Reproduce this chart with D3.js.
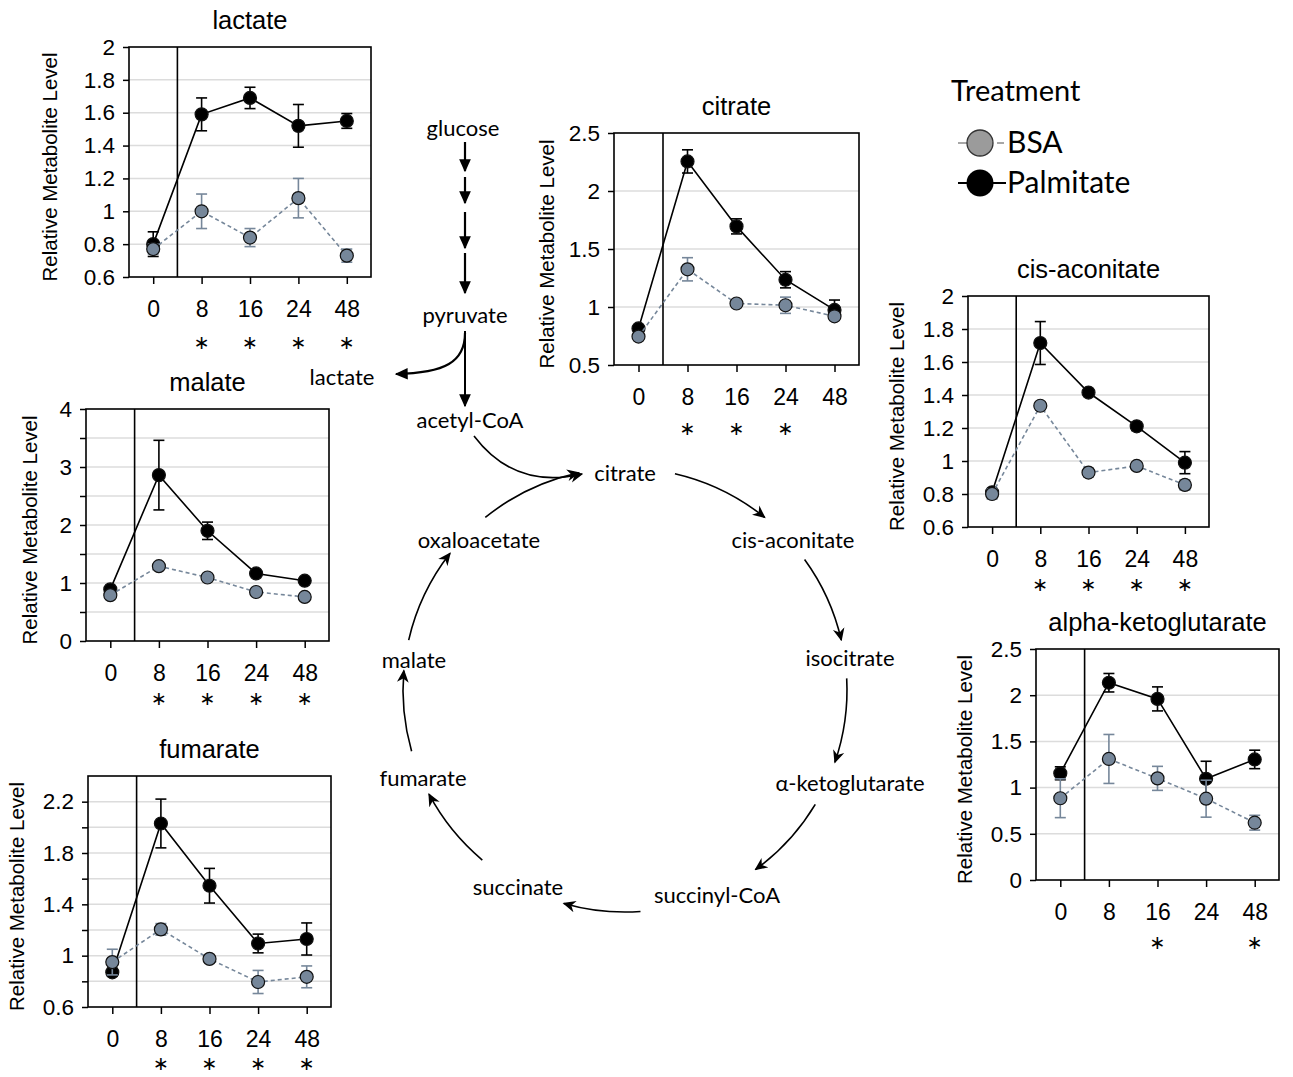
<!DOCTYPE html>
<html>
<head>
<meta charset="utf-8">
<script src="https://cdn.jsdelivr.net/npm/d3@7"></script>
<style>
  body { margin: 0; background: #fff; }
  svg { display: block; }
  .axis text { font-family: "Liberation Sans", Arial, sans-serif; fill: #000; }
  .axis line { stroke: #000; stroke-width: 1.5; }
  .path-label { font-family: Lato, "Open Sans", sans-serif; font-size: 22px; fill: #000; }
</style>
</head>
<body>
<div id="chart"></div>
<script>
// time points (h) shared by every panel
const times = ["0", "8", "16", "24", "48"];

// values: mean and error bar half-length per time point
const lactateBSA = [0.77, 1.0, 0.84, 1.08, 0.73];
const lactateBSAErr = [0.03, 0.105, 0.055, 0.12, 0.04];
const lactatePalm = [0.80, 1.59, 1.69, 1.52, 1.55];
const lactatePalmErr = [0.075, 0.10, 0.065, 0.13, 0.045];
const lactateStars = ["8", "16", "24", "48"];

const citrateBSA = [0.745, 1.325, 1.03, 1.015, 0.92];
const citrateBSAErr = [0.03, 0.10, 0.02, 0.07, 0.03];
const citratePalm = [0.815, 2.255, 1.695, 1.235, 0.975];
const citratePalmErr = [0.03, 0.10, 0.065, 0.07, 0.085];
const citrateStars = ["8", "16", "24"];

const cisBSA = [0.80, 1.335, 0.93, 0.97, 0.855];
const cisBSAErr = [0.03, 0.02, 0.025, 0.02, 0.03];
const cisPalm = [0.81, 1.715, 1.415, 1.21, 0.99];
const cisPalmErr = [0.02, 0.13, 0.02, 0.025, 0.067];
const cisStars = ["8", "16", "24", "48"];

const malateBSA = [0.79, 1.29, 1.095, 0.845, 0.76];
const malateBSAErr = [0.03, 0.05, 0.04, 0.03, 0.03];
const malatePalm = [0.89, 2.86, 1.9, 1.165, 1.04];
const malatePalmErr = [0.04, 0.6, 0.15, 0.04, 0.04];
const malateStars = ["8", "16", "24", "48"];

const fumarateBSA = [0.95, 1.205, 0.975, 0.795, 0.835];
const fumarateBSAErr = [0.10, 0.045, 0.02, 0.09, 0.085];
const fumaratePalm = [0.87, 2.03, 1.545, 1.095, 1.13];
const fumaratePalmErr = [0.03, 0.19, 0.135, 0.073, 0.125];
const fumarateStars = ["8", "16", "24", "48"];

const akgBSA = [0.885, 1.31, 1.10, 0.88, 0.62];
const akgBSAErr = [0.21, 0.265, 0.13, 0.2, 0.08];
const akgPalm = [1.155, 2.135, 1.96, 1.095, 1.305];
const akgPalmErr = [0.07, 0.10, 0.13, 0.19, 0.10];
const akgStars = ["16", "48"];

// y ticks and which of them get a label
const ticks06to2 = [0.6, 0.8, 1, 1.2, 1.4, 1.6, 1.8, 2];
const citrateTicks = [0.5, 1, 1.5, 2, 2.5];
const malateTicks = [0, 0.5, 1, 1.5, 2, 2.5, 3, 3.5, 4];
const malateLabels = [0, 1, 2, 3, 4];
const fumarateTicks = [0.6, 0.8, 1, 1.2, 1.4, 1.6, 1.8, 2, 2.2];
const fumarateLabels = [0.6, 1, 1.4, 1.8, 2.2];
const akgTicks = [0, 0.5, 1, 1.5, 2, 2.5];

const legendNames = ["BSA", "Palmitate"];

const bsaColor = "#76879a";
const palmColor = "#000";

const W = 1293, H = 1077;

const svg = d3.select("#chart").append("svg")
  .attr("width", W)
  .attr("height", H);

const defs = svg.append("defs");
defs.append("marker")
  .attr("id", "head")
  .attr("viewBox", "0 0 10 10")
  .attr("refX", 9).attr("refY", 5)
  .attr("markerWidth", 13).attr("markerHeight", 13)
  .attr("markerUnits", "userSpaceOnUse")
  .attr("orient", "auto")
  .append("path")
  .attr("d", "M0,0.5 L10,5 L0,9.5 L3,5 Z")
  .attr("fill", "#000");
defs.append("marker")
  .attr("id", "tri")
  .attr("viewBox", "0 0 10 10")
  .attr("refX", 9).attr("refY", 5)
  .attr("markerWidth", 13).attr("markerHeight", 13)
  .attr("markerUnits", "userSpaceOnUse")
  .attr("orient", "auto")
  .append("path")
  .attr("d", "M0,0.5 L10,5 L0,9.5 Z")
  .attr("fill", "#000");

const panels = [
  { title: "lactate", bsa: lactateBSA, bsaErr: lactateBSAErr, palm: lactatePalm, palmErr: lactatePalmErr, stars: lactateStars,
    domain: [0.6, 2], ticks: ticks06to2, labels: ticks06to2,
    left: 129, top: 47, w: 242, h: 230, starOff: 65, ylabOff: 79 },
  { title: "citrate", bsa: citrateBSA, bsaErr: citrateBSAErr, palm: citratePalm, palmErr: citratePalmErr, stars: citrateStars,
    domain: [0.5, 2.5], ticks: citrateTicks, labels: citrateTicks,
    left: 614, top: 133, w: 245, h: 232, starOff: 63, ylabOff: 67 },
  { title: "cis-aconitate", bsa: cisBSA, bsaErr: cisBSAErr, palm: cisPalm, palmErr: cisPalmErr, stars: cisStars,
    domain: [0.6, 2], ticks: ticks06to2, labels: ticks06to2,
    left: 968, top: 296, w: 241, h: 231, starOff: 57, ylabOff: 71 },
  { title: "malate", bsa: malateBSA, bsaErr: malateBSAErr, palm: malatePalm, palmErr: malatePalmErr, stars: malateStars,
    domain: [0, 4], ticks: malateTicks, labels: malateLabels,
    left: 86, top: 409, w: 243, h: 232, starOff: 57, ylabOff: 56 },
  { title: "fumarate", bsa: fumarateBSA, bsaErr: fumarateBSAErr, palm: fumaratePalm, palmErr: fumaratePalmErr, stars: fumarateStars,
    domain: [0.6, 2.4], ticks: fumarateTicks, labels: fumarateLabels,
    left: 88, top: 776, w: 243, h: 231, starOff: 56, ylabOff: 71 },
  { title: "alpha-ketoglutarate", bsa: akgBSA, bsaErr: akgBSAErr, palm: akgPalm, palmErr: akgPalmErr, stars: akgStars,
    domain: [0, 2.5], ticks: akgTicks, labels: akgTicks,
    left: 1036, top: 649, w: 243, h: 231, starOff: 62, ylabOff: 71 }
];

const fmt = (v) => String(+v.toFixed(2));

panels.forEach((p) => {
  const g = svg.append("g");
  const x = d3.scalePoint().domain(times).range([p.left, p.left + p.w]).padding(0.5);
  const y = d3.scaleLinear().domain(p.domain).range([p.top + p.h, p.top]);
  const bottom = p.top + p.h;

  // grid lines inside the frame
  g.selectAll(".grid")
    .data(p.ticks.filter((t) => t > p.domain[0] && t < p.domain[1]))
    .enter().append("line")
    .attr("x1", p.left).attr("x2", p.left + p.w)
    .attr("y1", (d) => y(d)).attr("y2", (d) => y(d))
    .attr("stroke", "#dcdcdc").attr("stroke-width", 1.5);

  const yAxis = d3.axisLeft(y)
    .tickValues(p.ticks)
    .tickSize(6)
    .tickPadding(8)
    .tickFormat((d) => (p.labels.some((l) => Math.abs(l - d) < 1e-9) ? fmt(d) : ""));
  g.append("g").attr("class", "axis")
    .attr("transform", `translate(${p.left},0)`)
    .call(yAxis)
    .call((a) => a.select(".domain").remove())
    .call((a) => a.selectAll("text").style("font-size", "22.5px"));

  const xAxis = d3.axisBottom(x).tickSize(7).tickPadding(17);
  g.append("g").attr("class", "axis")
    .attr("transform", `translate(0,${bottom})`)
    .call(xAxis)
    .call((a) => a.select(".domain").remove())
    .call((a) => a.selectAll("text").style("font-size", "23px"));

  // frame + divider between baseline and treatment
  g.append("rect")
    .attr("x", p.left).attr("y", p.top)
    .attr("width", p.w).attr("height", p.h)
    .attr("fill", "none").attr("stroke", "#000").attr("stroke-width", 1.6);
  const divX = (x("0") + x("8")) / 2;
  g.append("line")
    .attr("x1", divX).attr("x2", divX)
    .attr("y1", p.top).attr("y2", bottom)
    .attr("stroke", "#000").attr("stroke-width", 1.6);

  g.append("text")
    .attr("x", p.left + p.w / 2).attr("y", p.top - 27)
    .attr("dy", "0.35em")
    .attr("text-anchor", "middle")
    .style("font-family", '"Liberation Sans", Arial, sans-serif')
    .style("font-size", "25.5px")
    .text(p.title);

  g.append("text")
    .attr("transform", `translate(${p.left - p.ylabOff},${p.top + p.h / 2 + 5}) rotate(-90)`)
    .attr("dy", "0.35em")
    .attr("text-anchor", "middle")
    .style("font-family", '"Liberation Sans", Arial, sans-serif')
    .style("font-size", "20.5px")
    .text("Relative Metabolite Level");

  g.selectAll(".star")
    .data(p.stars)
    .enter().append("text")
    .attr("x", (d) => x(d))
    .attr("y", bottom + p.starOff)
    .attr("dominant-baseline", "central")
    .attr("text-anchor", "middle")
    .style("font-family", '"DejaVu Sans", sans-serif')
    .style("font-size", "19px")
    .text("\u2217");

  const series = [
    { vals: p.palm, errs: p.palmErr, color: palmColor, fill: "#000", dash: null },
    { vals: p.bsa, errs: p.bsaErr, color: bsaColor, fill: bsaColor, dash: "4,3" }
  ];

  series.forEach((s) => {
    const pts = times.map((t, i) => ({ t, v: s.vals[i], e: s.errs[i] }));
    const line = d3.line().x((d) => x(d.t)).y((d) => y(d.v));
    g.append("path")
      .attr("d", line(pts))
      .attr("fill", "none")
      .attr("stroke", s.color)
      .attr("stroke-width", 1.6)
      .attr("stroke-dasharray", s.dash);

    const eb = g.append("g").attr("stroke", s.color).attr("stroke-width", 1.6);
    pts.forEach((d) => {
      const cx = x(d.t);
      eb.append("line").attr("x1", cx).attr("x2", cx).attr("y1", y(d.v - d.e)).attr("y2", y(d.v + d.e));
      eb.append("line").attr("x1", cx - 5.5).attr("x2", cx + 5.5).attr("y1", y(d.v + d.e)).attr("y2", y(d.v + d.e));
      eb.append("line").attr("x1", cx - 5.5).attr("x2", cx + 5.5).attr("y1", y(d.v - d.e)).attr("y2", y(d.v - d.e));
    });

    g.selectAll(null)
      .data(pts)
      .enter().append("circle")
      .attr("cx", (d) => x(d.t))
      .attr("cy", (d) => y(d.v))
      .attr("r", 6.5)
      .attr("fill", s.fill)
      .attr("stroke", "#111")
      .attr("stroke-width", 1.2);
  });
});

// legend
const lg = svg.append("g").style("font-family", "Lato, sans-serif");
lg.append("text").attr("x", 951).attr("y", 101).style("font-size", "29px").text("Treatment");
legendNames.forEach((name, i) => {
  const cy = 143 + i * 40;
  if (i === 0) {
    lg.append("line").attr("x1", 958).attr("x2", 1004).attr("y1", cy).attr("y2", cy)
      .attr("stroke", "#8a8a8a").attr("stroke-width", 1.5).attr("stroke-dasharray", "9,4");
    lg.append("circle").attr("cx", 980).attr("cy", cy).attr("r", 13)
      .attr("fill", "#9b9b9b").attr("stroke", "#333").attr("stroke-width", 1.3);
  } else {
    lg.append("line").attr("x1", 958).attr("x2", 1006).attr("y1", cy).attr("y2", cy)
      .attr("stroke", "#000").attr("stroke-width", 2);
    lg.append("circle").attr("cx", 980).attr("cy", cy).attr("r", 13.5).attr("fill", "#000");
  }
  lg.append("text").attr("x", 1007).attr("y", cy + 10).style("font-size", "30px").text(name);
});

// pathway diagram
const pw = svg.append("g");
const pathLabels = [
  ["glucose", 463, 128], ["pyruvate", 465, 315], ["lactate", 342, 377], ["acetyl-CoA", 470, 420],
  ["citrate", 625, 473], ["cis-aconitate", 793, 540], ["isocitrate", 850, 658],
  ["\u03b1-ketoglutarate", 850, 783], ["succinyl-CoA", 717, 895], ["succinate", 518, 887],
  ["fumarate", 423, 778], ["malate", 414, 660], ["oxaloacetate", 479, 540]
];
pw.selectAll("text").data(pathLabels).enter().append("text")
  .attr("class", "path-label")
  .attr("x", (d) => d[1]).attr("y", (d) => d[2])
  .attr("dy", "0.35em")
  .attr("text-anchor", "middle")
  .text((d) => d[0]);

// glycolysis arrows
[[142, 171], [177, 203], [212, 248], [253, 293]].forEach(([a, b]) => {
  pw.append("line").attr("x1", 465).attr("x2", 465).attr("y1", a).attr("y2", b)
    .attr("stroke", "#000").attr("stroke-width", 2.2).attr("marker-end", "url(#tri)");
});
pw.append("line").attr("x1", 465).attr("x2", 465).attr("y1", 331).attr("y2", 406)
  .attr("stroke", "#000").attr("stroke-width", 2).attr("marker-end", "url(#tri)");
pw.append("path").attr("d", "M465,333 C465,362 445,373 396,374")
  .attr("fill", "none").attr("stroke", "#000").attr("stroke-width", 2.2).attr("marker-end", "url(#tri)");
pw.append("path").attr("d", "M474,436 Q515,490 582,474")
  .attr("fill", "none").attr("stroke", "#000").attr("stroke-width", 1.6).attr("marker-end", "url(#head)");

// TCA cycle arrows as arcs, angles clockwise from top
const cyc = { cx: 625, cy: 690, r: 222 };
const cycleArrows = [[13, 39], [54, 77], [87, 109], [121, 144], [176, 196], [220, 242], [254, 275], [283, 308], [321, 348]];
const rad = (deg) => ((deg - 90) * Math.PI) / 180;
cycleArrows.forEach(([a0, a1]) => {
  const p = d3.path();
  p.arc(cyc.cx, cyc.cy, cyc.r, rad(a0), rad(a1), false);
  pw.append("path").attr("d", p.toString())
    .attr("fill", "none").attr("stroke", "#000").attr("stroke-width", 1.6)
    .attr("marker-end", "url(#head)");
});
</script>
</body>
</html>
